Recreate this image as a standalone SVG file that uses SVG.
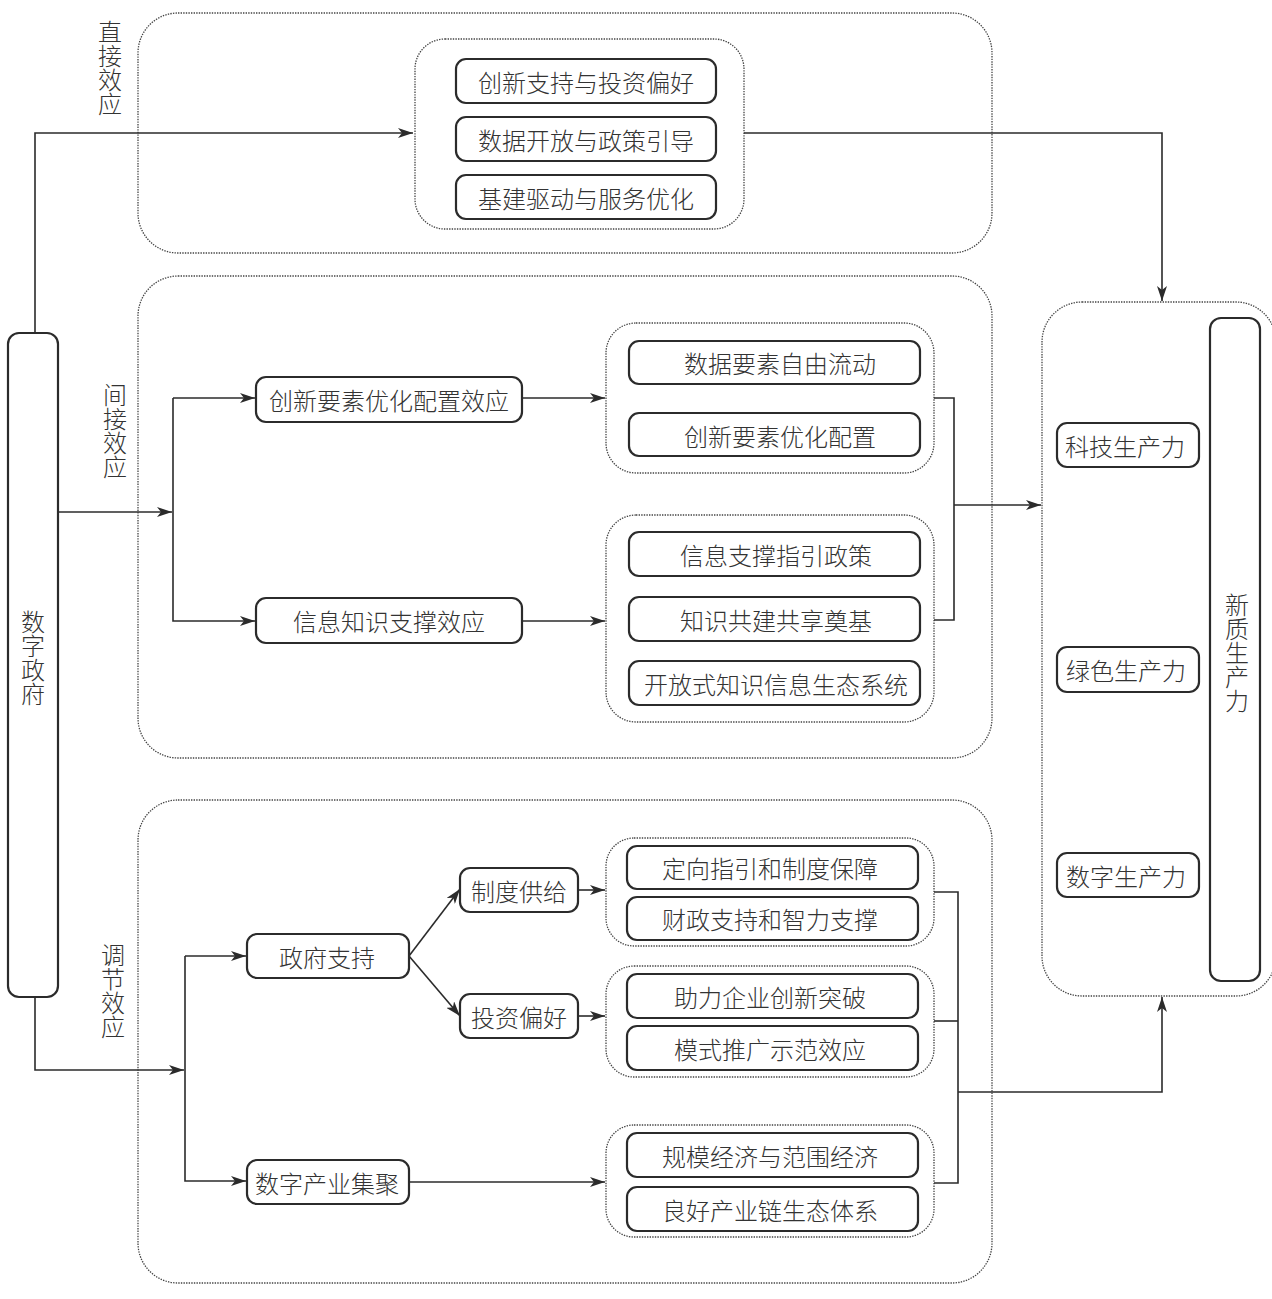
<svg xmlns="http://www.w3.org/2000/svg" width="1272" height="1299" viewBox="0 0 1272 1299">
<style>
.bg{fill:#fff}
.ctr{fill:none;stroke:#444;stroke-width:1.3;stroke-dasharray:1.4 1.2}
.box{fill:#fff;stroke:#2b2b2b;stroke-width:2.2}
.t{font-family:"Noto Sans CJK SC","Noto Sans",sans-serif;font-weight:300;font-size:24px;fill:#333;text-anchor:middle;dominant-baseline:central}
.v{font-family:"Noto Sans CJK SC","Noto Sans",sans-serif;font-weight:300;font-size:24px;fill:#333;text-anchor:middle;writing-mode:vertical-rl;letter-spacing:0px}
.ln{fill:none;stroke:#2b2b2b;stroke-width:1.6}
</style>
<defs>
<marker id="ah" markerWidth="16" markerHeight="10" refX="15" refY="5" orient="auto" markerUnits="userSpaceOnUse">
<path d="M0,0 L15,5 L0,10 L4,5 Z" fill="#2b2b2b"/>
</marker>
</defs>
<rect class="bg" x="0" y="0" width="1272" height="1299"/>

<g id="containers">
<rect class="ctr" x="138" y="13" width="854" height="240" rx="40"/>
<rect class="ctr" x="415" y="39" width="329" height="190" rx="30"/>
<rect class="ctr" x="138" y="276" width="854" height="482" rx="40"/>
<rect class="ctr" x="606" y="323" width="328" height="150" rx="30"/>
<rect class="ctr" x="606" y="515" width="328" height="207" rx="30"/>
<rect class="ctr" x="138" y="800" width="854" height="483" rx="40"/>
<rect class="ctr" x="606" y="838" width="328" height="108" rx="28"/>
<rect class="ctr" x="606" y="966" width="328" height="111" rx="28"/>
<rect class="ctr" x="606" y="1125" width="328" height="112" rx="28"/>
<rect class="ctr" x="1042" y="302" width="234" height="694" rx="40"/>
</g>

<g id="connectors">
<polyline class="ln" points="35,333 35,133 413,133" marker-end="url(#ah)"/>
<polyline class="ln" points="744,133 1162,133 1162,301" marker-end="url(#ah)"/>
<line class="ln" x1="58" y1="512" x2="172" y2="512" marker-end="url(#ah)"/>
<polyline class="ln" points="173,398 173,621 255,621" marker-end="url(#ah)"/>
<line class="ln" x1="173" y1="398" x2="255" y2="398" marker-end="url(#ah)"/>
<line class="ln" x1="523" y1="398" x2="605" y2="398" marker-end="url(#ah)"/>
<line class="ln" x1="523" y1="621" x2="605" y2="621" marker-end="url(#ah)"/>
<polyline class="ln" points="934,398 954,398 954,620 934,620"/>
<line class="ln" x1="954" y1="505" x2="1041" y2="505" marker-end="url(#ah)"/>
<polyline class="ln" points="35,997 35,1070 184,1070" marker-end="url(#ah)"/>
<polyline class="ln" points="185,956 185,1181 246,1181" marker-end="url(#ah)"/>
<line class="ln" x1="185" y1="956" x2="246" y2="956" marker-end="url(#ah)"/>
<line class="ln" x1="409" y1="956" x2="460" y2="889" marker-end="url(#ah)"/>
<line class="ln" x1="409" y1="956" x2="460" y2="1016" marker-end="url(#ah)"/>
<line class="ln" x1="578" y1="890" x2="605" y2="890" marker-end="url(#ah)"/>
<line class="ln" x1="578" y1="1016" x2="605" y2="1016" marker-end="url(#ah)"/>
<line class="ln" x1="409" y1="1182" x2="605" y2="1182" marker-end="url(#ah)"/>
<polyline class="ln" points="934,892 958,892 958,1183 934,1183"/>
<line class="ln" x1="934" y1="1021" x2="958" y2="1021"/>
<polyline class="ln" points="958,1092 1162,1092 1162,997" marker-end="url(#ah)"/>
</g>

<g id="labels">
<text class="v" x="110" y="68">直接效应</text>
<text class="v" x="115" y="431">间接效应</text>
<text class="v" x="113" y="991">调节效应</text>
</g>

<g id="n-gov">
<rect class="box" x="8" y="333" width="50" height="664" rx="11"/>
<text class="v" x="33" y="658">数字政府</text>
</g>

<g id="n-d1"><rect class="box" x="456" y="59" width="260" height="44" rx="10"/><text class="t" x="586" y="81">创新支持与投资偏好</text></g>
<g id="n-d2"><rect class="box" x="456" y="117" width="260" height="44" rx="10"/><text class="t" x="586" y="139">数据开放与政策引导</text></g>
<g id="n-d3"><rect class="box" x="456" y="175" width="260" height="44" rx="10"/><text class="t" x="586" y="197">基建驱动与服务优化</text></g>

<g id="n-i1"><rect class="box" x="256" y="377" width="266" height="45" rx="10"/><text class="t" x="389" y="399">创新要素优化配置效应</text></g>
<g id="n-i2"><rect class="box" x="256" y="598" width="266" height="45" rx="10"/><text class="t" x="389" y="620">信息知识支撑效应</text></g>

<g id="n-a1"><rect class="box" x="629" y="341" width="291" height="43" rx="10"/><text class="t" x="780" y="362">数据要素自由流动</text></g>
<g id="n-a2"><rect class="box" x="629" y="413" width="291" height="43" rx="10"/><text class="t" x="780" y="435">创新要素优化配置</text></g>
<g id="n-b1"><rect class="box" x="629" y="532" width="291" height="44" rx="10"/><text class="t" x="776" y="554">信息支撑指引政策</text></g>
<g id="n-b2"><rect class="box" x="629" y="597" width="291" height="44" rx="10"/><text class="t" x="776" y="619">知识共建共享奠基</text></g>
<g id="n-b3"><rect class="box" x="629" y="661" width="291" height="44" rx="10"/><text class="t" x="776" y="683">开放式知识信息生态系统</text></g>

<g id="n-g1"><rect class="box" x="247" y="934" width="162" height="44" rx="10"/><text class="t" x="327" y="956">政府支持</text></g>
<g id="n-g2"><rect class="box" x="247" y="1160" width="162" height="44" rx="10"/><text class="t" x="327" y="1182">数字产业集聚</text></g>
<g id="n-s1"><rect class="box" x="460" y="868" width="118" height="44" rx="10"/><text class="t" x="519" y="890">制度供给</text></g>
<g id="n-s2"><rect class="box" x="460" y="994" width="118" height="44" rx="10"/><text class="t" x="519" y="1016">投资偏好</text></g>

<g id="n-c1"><rect class="box" x="627" y="846" width="291" height="43" rx="10"/><text class="t" x="770" y="867">定向指引和制度保障</text></g>
<g id="n-c2"><rect class="box" x="627" y="897" width="291" height="43" rx="10"/><text class="t" x="770" y="918">财政支持和智力支撑</text></g>
<g id="n-c3"><rect class="box" x="627" y="974" width="291" height="44" rx="10"/><text class="t" x="770" y="996">助力企业创新突破</text></g>
<g id="n-c4"><rect class="box" x="627" y="1026" width="291" height="44" rx="10"/><text class="t" x="770" y="1048">模式推广示范效应</text></g>
<g id="n-c5"><rect class="box" x="627" y="1133" width="291" height="44" rx="10"/><text class="t" x="770" y="1155">规模经济与范围经济</text></g>
<g id="n-c6"><rect class="box" x="627" y="1187" width="291" height="44" rx="10"/><text class="t" x="770" y="1209">良好产业链生态体系</text></g>

<g id="n-p1"><rect class="box" x="1057" y="423" width="142" height="44" rx="10"/><text class="t" x="1125" y="445">科技生产力</text></g>
<g id="n-p2"><rect class="box" x="1057" y="647" width="142" height="45" rx="10"/><text class="t" x="1126" y="669">绿色生产力</text></g>
<g id="n-p3"><rect class="box" x="1057" y="853" width="142" height="44" rx="10"/><text class="t" x="1126" y="875">数字生产力</text></g>

<g id="n-new">
<rect class="box" x="1210" y="318" width="50" height="663" rx="11"/>
<text class="v" x="1237" y="653">新质生产力</text>
</g>
</svg>
